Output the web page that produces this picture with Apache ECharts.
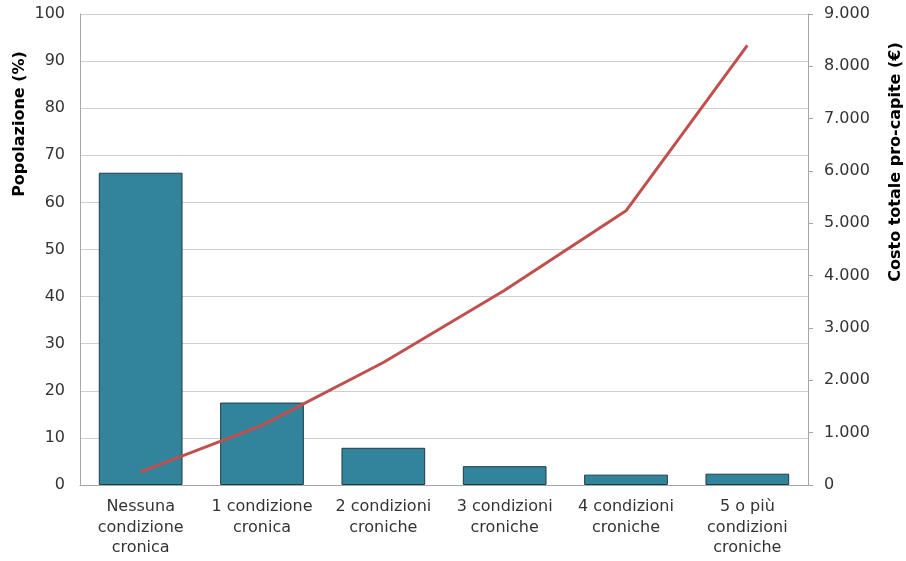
<!DOCTYPE html>
<html>
<head>
<meta charset="utf-8">
<script src="https://cdn.jsdelivr.net/npm/echarts@6/dist/echarts.min.js"></script>
<style>
  html, body { margin: 0; padding: 0; background: #fff; }
  #chart { width: 906px; height: 561px; }
</style>
</head>
<body>
<div id="chart"></div>
<script>
// Categorie: numero di condizioni croniche
const categories = [
  'Nessuna\ncondizione\ncronica',
  '1 condizione\ncronica',
  '2 condizioni\ncroniche',
  '3 condizioni\ncroniche',
  '4 condizioni\ncroniche',
  '5 o più\ncondizioni\ncroniche'
];
// Quota di popolazione (%)
const popolazione = [66.3, 17.5, 7.9, 4.0, 2.2, 2.4];
// Costo totale pro-capite (€)
const costoProCapite = [250, 1140, 2340, 3720, 5240, 8400];

const FONT = 'DejaVu Sans';
const TEXT = '#333333';

const chart = echarts.init(document.getElementById('chart'), null, { renderer: 'canvas' });

chart.setOption({
  animation: false,
  textStyle: { fontFamily: FONT },
  grid: { left: 80, right: 98, top: 14, bottom: 76, containLabel: false },
  xAxis: {
    type: 'category',
    data: categories,
    axisLine: { lineStyle: { color: '#a6a6a6', width: 1 } },
    axisTick: { show: false },
    axisLabel: {
      color: TEXT, fontFamily: FONT, fontSize: 16, lineHeight: 20.5,
      margin: 12, interval: 0, align: 'center'
    }
  },
  yAxis: [
    {
      type: 'value', min: 0, max: 100, interval: 10,
      axisLine: { show: true, lineStyle: { color: '#a6a6a6' } },
      axisTick: { show: false },
      splitLine: { lineStyle: { color: '#cfcfcf', width: 1 } },
      axisLabel: { color: TEXT, fontFamily: FONT, fontSize: 16, margin: 15 }
    },
    {
      type: 'value', min: 0, max: 9000, interval: 1000, position: 'right',
      axisLine: { show: true, lineStyle: { color: '#a6a6a6' } },
      axisTick: { show: true, length: 5, lineStyle: { color: '#a6a6a6' } },
      splitLine: { show: false },
      axisLabel: {
        color: TEXT, fontFamily: FONT, fontSize: 16, margin: 16,
        formatter: v => v === 0 ? '0' : v.toLocaleString('de-DE')
      }
    }
  ],
  graphic: [
    {
      type: 'text', x: 20, y: 124, rotation: Math.PI / 2,
      style: {
        text: 'Popolazione (%)', fill: '#000', font: 'bold 16px "DejaVu Sans"',
        align: 'center', verticalAlign: 'middle'
      }
    },
    {
      type: 'text', x: 896, y: 162, rotation: Math.PI / 2,
      style: {
        text: 'Costo totale pro-capite (€)', fill: '#000', font: 'bold 16px "DejaVu Sans"',
        align: 'center', verticalAlign: 'middle'
      }
    }
  ],
  series: [
    {
      name: 'Popolazione', type: 'bar', yAxisIndex: 0,
      data: popolazione,
      barCategoryGap: '31%',
      itemStyle: { color: '#31849b', borderColor: '#1e3d47', borderWidth: 1 }
    },
    {
      name: 'Costo pro-capite', type: 'line', yAxisIndex: 1,
      data: costoProCapite,
      symbol: 'none',
      lineStyle: { color: '#c0504d', width: 3 },
      z: 5
    }
  ]
});
</script>
</body>
</html>
